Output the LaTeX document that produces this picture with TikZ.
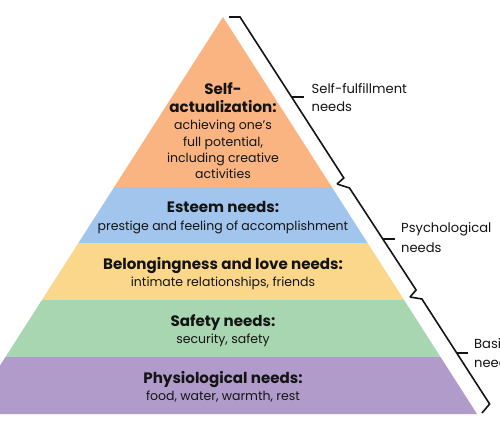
\documentclass[tikz,border=0pt]{standalone}
\usepackage{fontspec}
\setmainfont{Poppins}
\definecolor{cOrange}{RGB}{249,180,129}
\definecolor{cBlue}{RGB}{161,197,236}
\definecolor{cYellow}{RGB}{251,215,139}
\definecolor{cGreen}{RGB}{167,214,177}
\definecolor{cPurple}{RGB}{176,155,203}
\definecolor{cInk}{RGB}{20,20,20}
\begin{document}
\begin{tikzpicture}[x=1pt,y=-1pt,
  hd/.style={font=\bfseries\fontsize{15.1}{16}\selectfont, anchor=base, inner sep=0pt, text=cInk},
  bd/.style={font=\fontsize{12.5}{14}\selectfont, anchor=base, inner sep=0pt, text=cInk},
  lbl/.style={font=\fontsize{13.1}{15}\selectfont, anchor=base west, inner sep=0pt, text=cInk},
  bracket/.style={draw=cInk, line width=1.6pt, line join=miter}]
\useasboundingbox (0,0) rectangle (500,438);
\fill[white] (0,0) rectangle (500,438);
\begin{scope}
  \clip (0,0) rectangle (500,438);
  \clip (223,17) -- (477,414) -- (-31,414) -- cycle;
  \fill[cOrange] (-40,0) rectangle (500,187);
  \fill[cBlue] (-40,187) rectangle (500,243);
  \fill[cYellow] (-40,243) rectangle (500,300);
  \fill[cGreen] (-40,300) rectangle (500,357);
  \fill[cPurple] (-40,357) rectangle (500,414.5);
\end{scope}
% pyramid texts
\node[hd] (sa1) at (223,95) {Self-};
\node[hd] (sa2) at (223,112.7) {actualization:};
\node[bd] (sa3) at (223,130) {achieving one’s};
\node[bd] (sa4) at (223,146.3) {full potential,};
\node[bd] (sa5) at (223,162.6) {including creative};
\node[bd] (sa6) at (223,178.6) {activities};
\node[hd] (es1) at (223,213) {Esteem needs:};
\node[bd] (es2) at (223,230) {prestige and feeling of accomplishment};
\node[hd] (be1) at (223,269) {Belongingness and love needs:};
\node[bd] (be2) at (223,286) {intimate relationships, friends};
\node[hd] (sf1) at (223,326) {Safety needs:};
\node[bd] (sf2) at (223,343) {security, safety};
\node[hd] (ph1) at (223,383) {Physiological needs:};
\node[bd] (ph2) at (223,400) {food, water, warmth, rest};
% brackets
\coordinate (t0) at (229,17);
\coordinate (t1) at (240,17);
\coordinate (tm) at (291.6,97);
\coordinate (tm2) at (304,97);
\coordinate (t2) at (343.8,178);
\coordinate (j1) at (337,184);
\coordinate (p1) at (349.5,188);
\coordinate (pm) at (383.2,239);
\coordinate (pm2) at (395,239);
\coordinate (p2) at (416.1,290);
\coordinate (j2) at (410,297);
\coordinate (b1) at (421.9,299);
\coordinate (bm) at (456.7,353);
\coordinate (bm2) at (468,353);
\coordinate (b2) at (489.6,404);
\coordinate (b3) at (482,413);
\draw[bracket] (t0) -- (t1) -- (t2) -- (j1);
\draw[bracket] (tm) -- (tm2);
\draw[bracket] (j1) -- (p1) -- (p2) -- (j2);
\draw[bracket] (pm) -- (pm2);
\draw[bracket] (j2) -- (b1) -- (b2) -- (b3);
\draw[bracket] (bm) -- (bm2);
% labels
\begin{scope}
\clip (0,0) rectangle (500,438);
\node[lbl] (l1a) at (311.5,93.3) {Self-fulfillment};
\node[lbl] (l1b) at (311.5,111.7) {needs};
\node[lbl] (l2a) at (401,233) {Psychological};
\node[lbl] (l2b) at (401,252) {needs};
\node[lbl] (l3a) at (474,348) {Basic};
\node[lbl] (l3b) at (474,367) {needs};
\end{scope}
\end{tikzpicture}
\end{document}
